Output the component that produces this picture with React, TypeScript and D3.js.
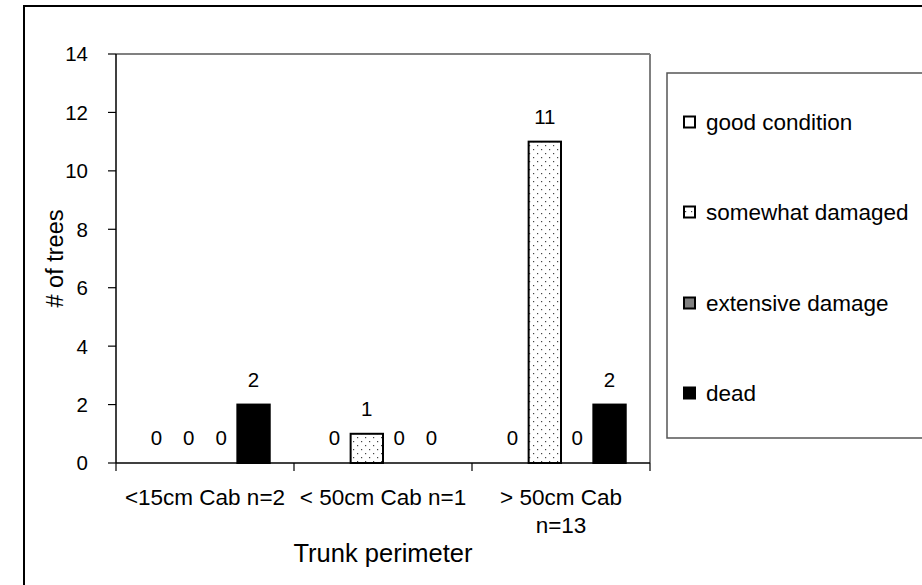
import React from "react";
import * as d3 from "d3";

const categories = ["<15cm Cab n=2", "< 50cm Cab n=1", "> 50cm Cab n=13"];
const categoryLines = [["<15cm Cab n=2"], ["< 50cm Cab n=1"], ["> 50cm Cab", "n=13"]];
const seriesNames = ["good condition", "somewhat damaged", "extensive damage", "dead"];
const goodCondition = [0, 0, 0];
const somewhatDamaged = [0, 1, 11];
const extensiveDamage = [0, 0, 0];
const dead = [2, 0, 2];
const yTicks = [0, 2, 4, 6, 8, 10, 12, 14];
const seriesValues = [goodCondition, somewhatDamaged, extensiveDamage, dead];
const seriesFills = ["#ffffff", "url(#dots)", "#808080", "#000000"];

const FONT = "'Liberation Sans', Arial, sans-serif";

export default function App() {
  const W = 922, H = 585;
  const left = 116, right = 650, top = 54, bottom = 463;
  const x0 = d3.scaleBand<string>().domain(categories).range([left, right]).padding(0);
  const x1 = d3.scaleBand<string>().domain(seriesNames).range([0, x0.bandwidth()]).paddingInner(0).paddingOuter(0.75);
  const y = d3.scaleLinear().domain([0, 14]).range([bottom, top]);

  const legendX = 667, legendY = 73, legendH = 365;
  const legendRows = [122, 212, 303, 393];

  return (
    <svg width={W} height={H} style={{ position: "absolute", left: 0, top: 0, background: "#fff" }} fontFamily={FONT}>
      <defs>
        <pattern id="dots" width={8} height={8} patternUnits="userSpaceOnUse">
          <rect width={8} height={8} fill="#fff" />
          <rect x={1} y={1} width={1.2} height={1.2} fill="#444" />
          <rect x={5} y={5} width={1.2} height={1.2} fill="#444" />
        </pattern>
        <pattern id="dotsLegend" width={6} height={6} patternUnits="userSpaceOnUse" x={684} y={0}>
          <rect width={6} height={6} fill="#fff" />
          <rect x={1} y={1} width={1.2} height={1.2} fill="#444" />
        </pattern>
      </defs>
      <rect x={0} y={0} width={W} height={H} fill="#fff" />
      {/* outer border */}
      <rect x={24} y={6} width={W} height={H} fill="none" stroke="#000" strokeWidth={2} />

      {/* plot area border */}
      <line x1={left} y1={top} x2={right} y2={top} stroke="#808080" strokeWidth={2} />
      <line x1={right} y1={top} x2={right} y2={bottom} stroke="#808080" strokeWidth={2} />

      {/* bars */}
      {categories.map((c, ci) =>
        seriesNames.map((s, si) => {
          const v = seriesValues[si][ci];
          const bx = (x0(c) as number) + (x1(s) as number);
          const bw = x1.bandwidth();
          return (
            <g key={c + s}>
              {v > 0 && (
                <rect x={bx} y={y(v)} width={bw} height={y(0) - y(v)} fill={seriesFills[si]} stroke="#000" strokeWidth={2} />
              )}
              <text x={bx + bw / 2} y={y(v) - 18} textAnchor="middle" fontSize={20.5} fill="#000">
                {v}
              </text>
            </g>
          );
        })
      )}

      {/* y axis */}
      <line x1={left} y1={top} x2={left} y2={bottom} stroke="#000" strokeWidth={1.5} />
      {yTicks.map((t) => (
        <g key={t}>
          <line x1={left - 8} x2={left} y1={y(t)} y2={y(t)} stroke="#000" strokeWidth={1.2} />
          <text x={left - 28} y={y(t)} dy="0.36em" textAnchor="end" fontSize={20.5} fill="#000">
            {t}
          </text>
        </g>
      ))}

      {/* x axis */}
      <line x1={left} y1={bottom} x2={right} y2={bottom} stroke="#000" strokeWidth={1.5} />
      {[...categories.map((c) => x0(c) as number), right].map((tx, i) => (
        <line key={i} x1={tx} x2={tx} y1={bottom} y2={bottom + 8} stroke="#000" strokeWidth={1.2} />
      ))}
      {categories.map((c, ci) => (
        <text key={c} x={(x0(c) as number) + x0.bandwidth() / 2} y={505} textAnchor="middle" fontSize={22.5} fill="#000">
          {categoryLines[ci].map((ln, li) => (
            <tspan key={li} x={(x0(c) as number) + x0.bandwidth() / 2} dy={li === 0 ? 0 : 28}>
              {ln}
            </tspan>
          ))}
        </text>
      ))}

      {/* axis titles */}
      <text x={(left + right) / 2} y={562} textAnchor="middle" fontSize={25.5} fill="#000">
        Trunk perimeter
      </text>
      <text transform={`translate(63, ${(top + bottom) / 2}) rotate(-90)`} textAnchor="middle" fontSize={23.5} fill="#000">
        # of trees
      </text>

      {/* legend */}
      <rect x={legendX} y={legendY} width={400} height={legendH} fill="#fff" stroke="#555" strokeWidth={1.5} />
      {seriesNames.map((s, si) => (
        <g key={s}>
          <rect x={684} y={legendRows[si] - 5.5} width={11} height={11} fill={si === 1 ? "url(#dotsLegend)" : seriesFills[si]} stroke="#000" strokeWidth={2} />
          <text x={706} y={legendRows[si]} dy="0.36em" fontSize={22.5} fill="#000">
            {s}
          </text>
        </g>
      ))}
    </svg>
  );
}
